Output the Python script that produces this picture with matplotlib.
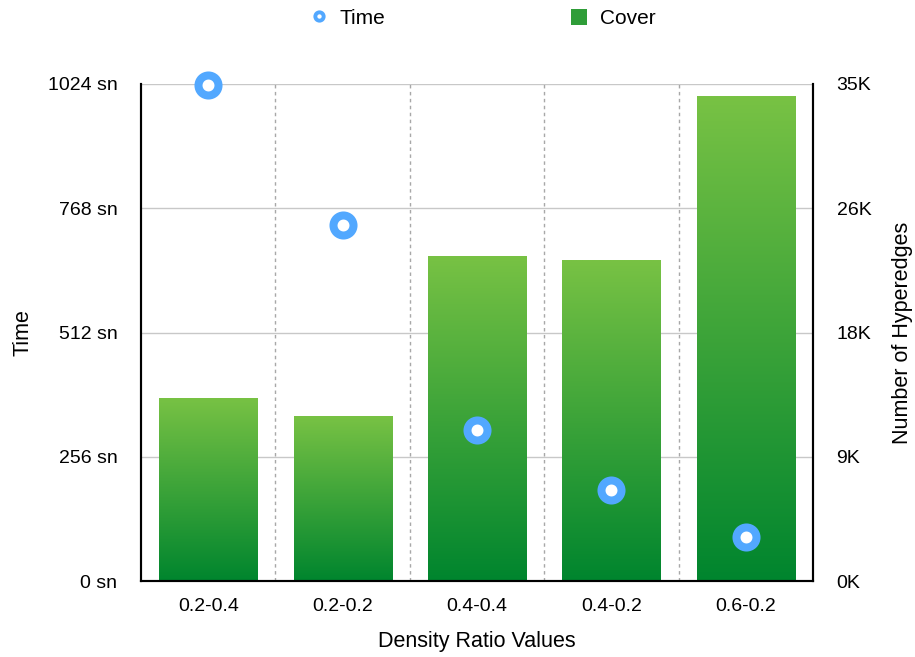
import numpy as np
import matplotlib
matplotlib.use("Agg")
import matplotlib.pyplot as plt
from matplotlib.lines import Line2D
from matplotlib.patches import Patch
from matplotlib.colors import LinearSegmentedColormap
from matplotlib.ticker import FixedLocator, FuncFormatter

plt.rcParams['font.family'] = ['Liberation Sans', 'DejaVu Sans']

categories = ["0.2-0.4", "0.2-0.2", "0.4-0.4", "0.4-0.2", "0.6-0.2"]
time_sn = [1021, 734, 311, 187, 90]
cover = [12900, 11600, 22900, 22600, 34150]
time_ticks = [0, 256, 512, 768, 1024]
cover_ticks = [0, 8750, 17500, 26250, 35000]

ring_blue = "#52a8ff"
green_top = "#78c244"
green_bottom = "#00852e"

fig = plt.figure(figsize=(9.15, 6.57), dpi=100)
ax = fig.add_axes([141 / 915, 1 - 581 / 657, 672 / 915, 497 / 657])
ax2 = ax.twinx()

x = np.arange(len(categories))

# Bars on the right-hand (Cover) axis, filled with a vertical gradient
grad_cmap = LinearSegmentedColormap.from_list("cover", [green_bottom, green_top])
bars = ax2.bar(x, cover, width=0.73, color="none", edgecolor="none", zorder=2)
gradient = np.linspace(0, 1, 256).reshape(-1, 1)
for b in bars:
    x0, y0 = b.get_x(), b.get_y()
    w, h = b.get_width(), b.get_height()
    im = ax2.imshow(gradient, cmap=grad_cmap, origin="lower", aspect="auto",
                    extent=[x0, x0 + w, y0, y0 + h], zorder=2, interpolation="bilinear")
    im.set_clip_path(b)

ax2.set_xlim(-0.5, len(categories) - 0.5)
ax2.set_ylim(0, 35000)
ax2.yaxis.set_major_locator(FixedLocator(cover_ticks))
ax2.yaxis.set_major_formatter(FuncFormatter(lambda v, p: f"{v / 1000:.0f}K"))
ax2.grid(axis="y", color="#c8c8c8", linewidth=1, zorder=0)
ax2.set_axisbelow(True)
for bx in np.arange(0.5, len(categories) - 0.5, 1.0):
    ax2.axvline(bx, color="#a8a8a8", linewidth=1, linestyle=(0, (2.5, 2.5)), zorder=1)

# Time markers on the left-hand axis, drawn above the bars
ax.set_zorder(ax2.get_zorder() + 1)
ax.patch.set_visible(False)
ax.plot(x, time_sn, linestyle="none", marker="o", markersize=14.4,
        markerfacecolor="white", markeredgecolor=ring_blue, markeredgewidth=5.8,
        zorder=5, clip_on=False)
ax.set_ylim(0, 1024)
ax.set_xlim(-0.5, len(categories) - 0.5)
ax.yaxis.set_major_locator(FixedLocator(time_ticks))
ax.yaxis.set_major_formatter(FuncFormatter(lambda v, p: f"{v:.0f} sn"))
ax.set_xticks(x)
ax.set_xticklabels(categories)

for a in (ax, ax2):
    a.spines["top"].set_visible(False)
    for s in ("left", "right", "bottom"):
        a.spines[s].set_color("black")
        a.spines[s].set_linewidth(1.5)
    a.tick_params(length=0, labelsize=14, colors="black")
ax.tick_params(axis="y", pad=17)
ax2.tick_params(axis="y", pad=17)
ax.tick_params(axis="x", pad=12)

ax.set_ylabel("Time", fontsize=15.5, labelpad=10)
ax2.set_ylabel("Number of Hyperedges", fontsize=15.5, labelpad=15)
ax.set_xlabel("Density Ratio Values", fontsize=15.5, labelpad=12)

handles = [
    Line2D([], [], linestyle="none", marker="o", markersize=6,
           markerfacecolor="white", markeredgecolor=ring_blue, markeredgewidth=2.8),
    Patch(facecolor="#2f9d38", edgecolor="none"),
]
fig.legend(handles, ["Time", "Cover"], loc="center", bbox_to_anchor=(483 / 915, 1 - 18.5 / 657),
           ncol=2, frameon=False, fontsize=15, handlelength=0.8, handleheight=0.8,
           handletextpad=0.6, columnspacing=8.9)

fig.savefig("out.png", dpi=100, facecolor="white")
